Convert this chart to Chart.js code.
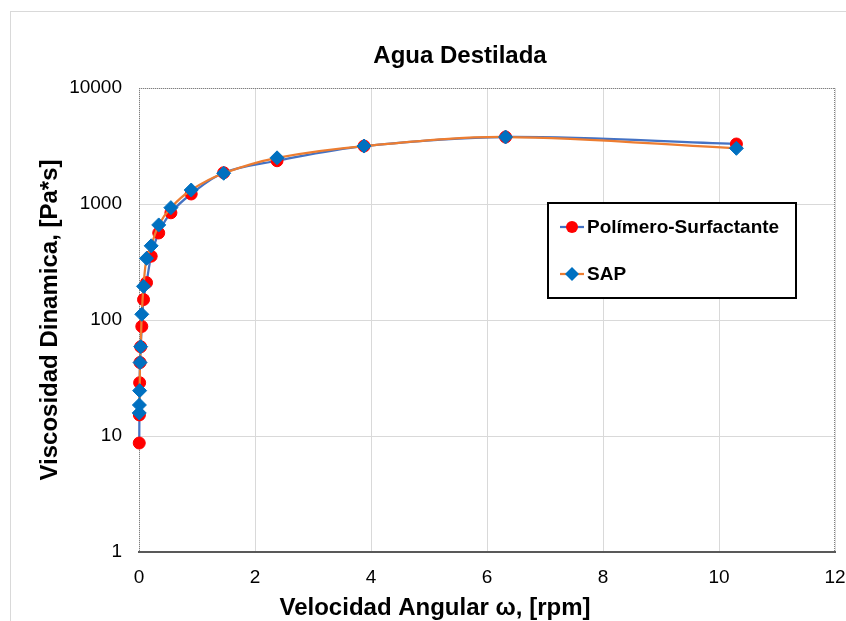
<!DOCTYPE html>
<html>
<head>
<meta charset="utf-8">
<title>Agua Destilada</title>
<script src="https://cdn.jsdelivr.net/npm/chart.js@4.4.1/dist/chart.umd.min.js"></script>
<style>
  html, body { margin: 0; padding: 0; background: #fff; overflow: hidden; }
  #wrap { position: relative; width: 846px; height: 621px; }
</style>
</head>
<body>
<div id="wrap"><canvas id="viscChart"></canvas></div>
<script>
// velocidad angular [rpm]
const rpm = [0.0042, 0.0068, 0.011, 0.018, 0.029, 0.048, 0.078, 0.13, 0.21,
             0.34, 0.55, 0.9, 1.46, 2.38, 3.88, 6.32, 10.3];
// viscosidad dinamica [Pa*s]
const viscPolimero = [8.7, 15.2, 28.8, 43, 58.8, 88, 150, 210, 355,
                      563, 840, 1220, 1860, 2360, 3160, 3780, 3290];
const viscSAP = [15.8, 18.5, 24.6, 43, 58.9, 112, 195, 340, 436,
                 660, 930, 1320, 1840, 2500, 3160, 3780, 3020];

const seriesNames = ['Polímero-Surfactante', 'SAP'];
const xTicks = [0, 2, 4, 6, 8, 10, 12];
const yTicks = [1, 10, 100, 1000, 10000];

const chartTitle = 'Agua Destilada';
const xTitle = 'Velocidad Angular ω, [rpm]';
const yTitle = 'Viscosidad Dinamica, [Pa*s]';

const FONT = "'Liberation Sans', Arial, sans-serif";

//frame, titles and the boxed legend (excel style)
const decor = {
    id: 'decor',
    beforeDraw(chart) {
        const ctx = chart.ctx;
        ctx.save();
        ctx.fillStyle = '#fff';
        ctx.fillRect(0, 0, chart.width, chart.height);
        ctx.strokeStyle = '#d9d9d9';
        ctx.lineWidth = 1;
        ctx.strokeRect(10.5, 11.5, chart.width + 60, chart.height + 60);
        ctx.restore();
    },
    beforeDatasetsDraw(chart) {
        // dotted plot-area border (top, left, right)
        const ctx = chart.ctx;
        const a = chart.chartArea;
        ctx.save();
        ctx.strokeStyle = '#7f7f7f';
        ctx.lineWidth = 1;
        ctx.setLineDash([1, 1]);
        ctx.beginPath();
        ctx.moveTo(a.left, a.top + 0.5);
        ctx.lineTo(a.right, a.top + 0.5);
        ctx.moveTo(a.right - 0.5, a.top);
        ctx.lineTo(a.right - 0.5, a.bottom);
        ctx.moveTo(a.left + 0.5, a.top);
        ctx.lineTo(a.left + 0.5, a.bottom);
        ctx.stroke();
        ctx.restore();
    },
    afterDraw(chart) {
        const ctx = chart.ctx;
        ctx.save();
        ctx.fillStyle = '#000';
        ctx.textAlign = 'center';
        ctx.textBaseline = 'alphabetic';
        ctx.font = 'bold 24px ' + FONT;
        ctx.fillText(chartTitle, 460, 63);
        ctx.fillText(xTitle, 435, 615);

        // legend
        const box = { x: 548, y: 203, w: 248, h: 95 };
        const rows = [227, 274];
        ctx.fillStyle = '#fff';
        ctx.fillRect(box.x, box.y, box.w, box.h);
        ctx.strokeStyle = '#000';
        ctx.lineWidth = 2;
        ctx.strokeRect(box.x, box.y, box.w, box.h);

        chart.data.datasets.forEach((ds, i) => {
            const cy = rows[i];
            ctx.strokeStyle = ds.borderColor;
            ctx.lineWidth = ds.borderWidth;
            ctx.beginPath();
            ctx.moveTo(560, cy);
            ctx.lineTo(584, cy);
            ctx.stroke();

            const r = ds.pointRadius;
            ctx.fillStyle = ds.pointBackgroundColor;
            ctx.beginPath();
            if (ds.pointStyle === 'rectRot') {
                ctx.moveTo(572, cy - r);
                ctx.lineTo(572 + r, cy);
                ctx.lineTo(572, cy + r);
                ctx.lineTo(572 - r, cy);
                ctx.closePath();
            } else {
                ctx.arc(572, cy, r, 0, Math.PI * 2);
            }
            ctx.fill();

            ctx.fillStyle = '#000';
            ctx.textAlign = 'left';
            ctx.textBaseline = 'middle';
            ctx.font = 'bold 19px ' + FONT;
            ctx.fillText(ds.label, 587, cy + 1);
        });
        ctx.restore();
    }
};

const data = {
    datasets: [{
        label: seriesNames[0],
        data: rpm.map((x, i) => ({ x: x, y: viscPolimero[i] })),
        borderColor: '#4472C4',
        borderWidth: 2.25,
        pointStyle: 'circle',
        pointRadius: 6,
        pointBackgroundColor: '#FF0000',
        pointBorderColor: '#FF0000',
        pointBorderWidth: 1,
        tension: 0.35,
        clip: false,
        order: 1
    }, {
        label: seriesNames[1],
        data: rpm.map((x, i) => ({ x: x, y: viscSAP[i] })),
        borderColor: '#ED7D31',
        borderWidth: 2.25,
        pointStyle: 'rectRot',
        pointRadius: 7,
        pointBackgroundColor: '#0070C0',
        pointBorderColor: '#0070C0',
        pointBorderWidth: 1,
        tension: 0.35,
        clip: false,
        order: 0
    }]
};

const config = {
    type: 'line',
    data: data,
    options: {
        responsive: true,
        maintainAspectRatio: false,
        animation: false,
        layout: {
            padding: { top: 88, right: 11, bottom: 0, left: 0 }
        },
        plugins: {
            legend: { display: false },
            title: { display: false },
            tooltip: { enabled: false }
        },
        scales: {
            x: {
                type: 'linear',
                min: 0,
                max: 12,
                afterBuildTicks: (s) => { s.ticks = xTicks.map(v => ({ value: v })); },
                afterFit: (s) => {
                    s.height = 69;
                    s.paddingLeft = 0;
                    s.paddingRight = 0;
                },
                grid: { color: '#d9d9d9', lineWidth: 1, drawTicks: false },
                border: { color: '#595959', width: 2 },
                ticks: {
                    color: '#000',
                    padding: 14,
                    font: { family: FONT, size: 19 }
                }
            },
            y: {
                type: 'logarithmic',
                min: 1,
                max: 10000,
                afterBuildTicks: (s) => { s.ticks = yTicks.map(v => ({ value: v })); },
                afterFit: (s) => {
                    s.width = 139;
                    s.paddingTop = 0;
                    s.paddingBottom = 0;
                },
                grid: { color: '#d9d9d9', lineWidth: 1, drawTicks: false },
                border: { display: false },
                ticks: {
                    color: '#000',
                    padding: 17,
                    font: { family: FONT, size: 19 },
                    callback: (v) => String(v)
                },
                title: {
                    display: true,
                    text: yTitle,
                    color: '#000',
                    font: { family: FONT, size: 24, weight: 'bold' },
                    padding: { top: 36, bottom: 0 }
                }
            }
        }
    },
    plugins: [decor]
};

const viscChart = new Chart(document.getElementById('viscChart'), config);
</script>
</body>
</html>
